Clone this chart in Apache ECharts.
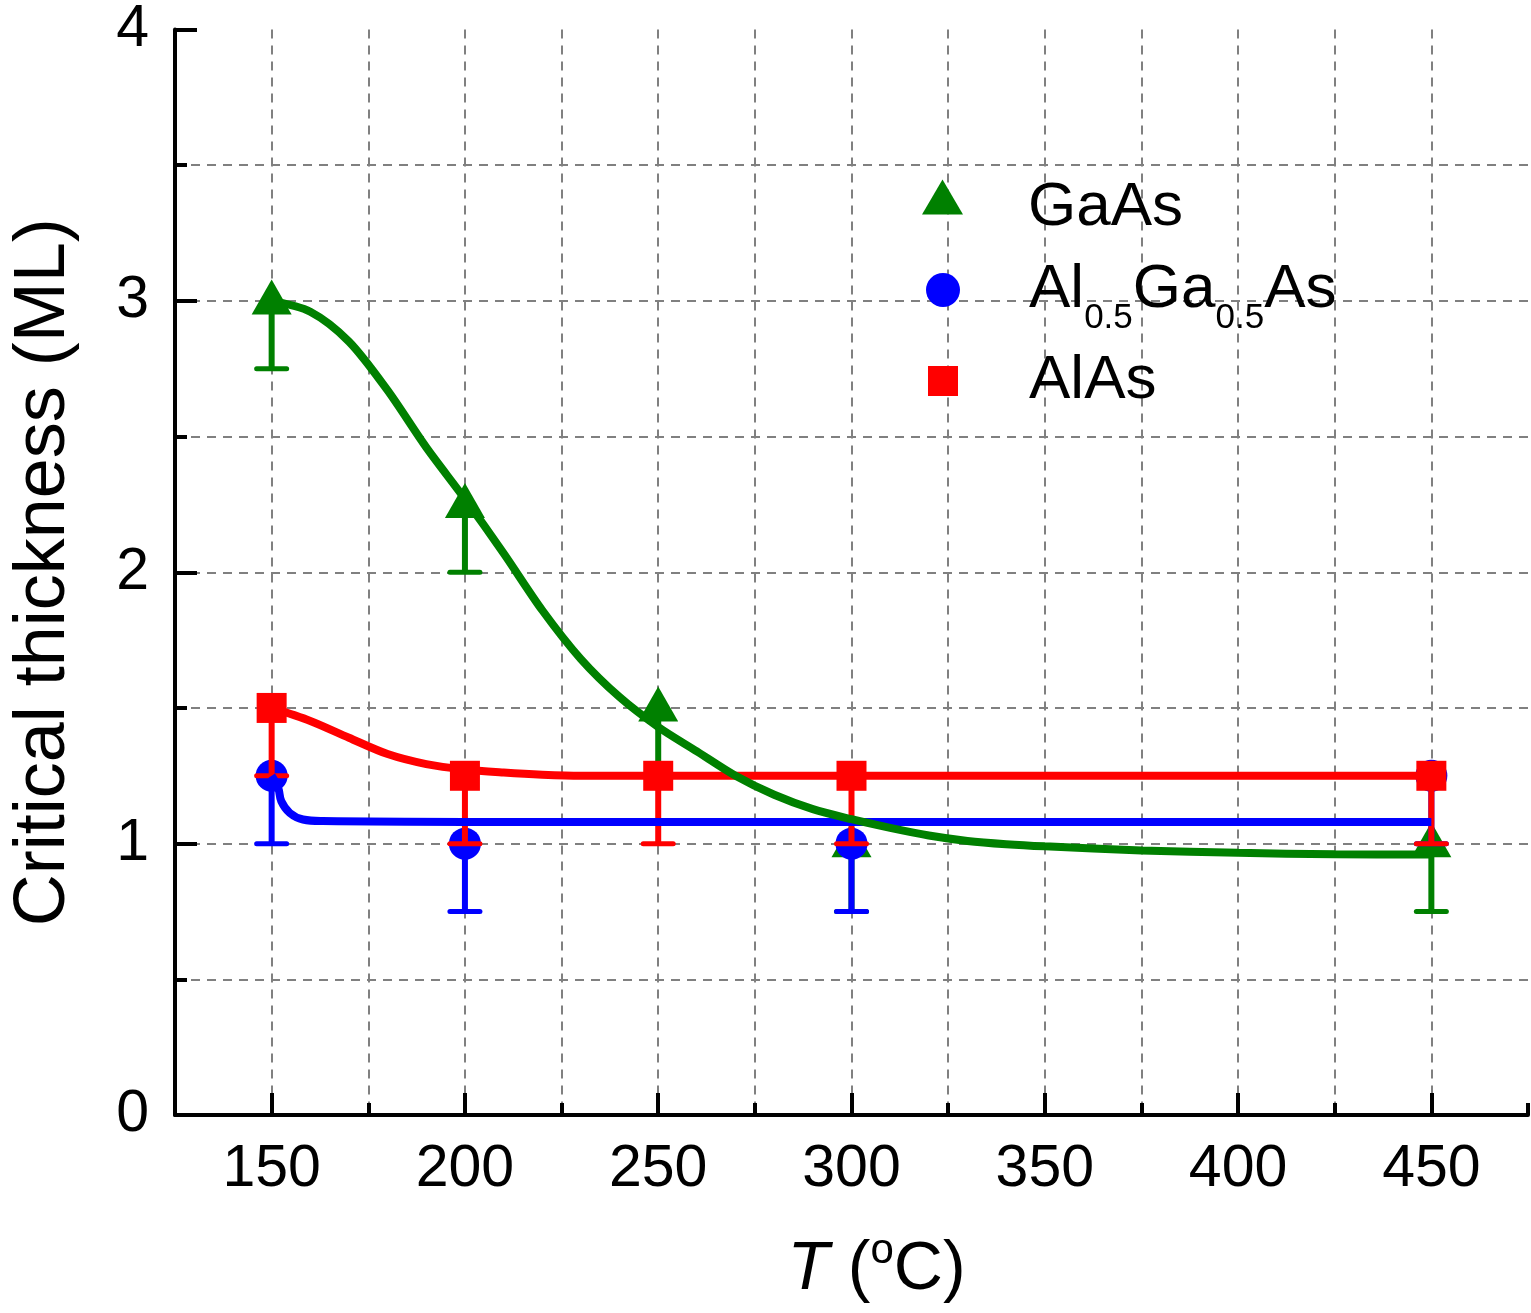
<!DOCTYPE html>
<html>
<head>
<meta charset="utf-8">
<script src="https://cdn.jsdelivr.net/npm/echarts@6/dist/echarts.min.js"></script>
<style>
html,body{margin:0;padding:0;background:#fff;}
#chart{width:1531px;height:1313px;}
</style>
</head>
<body>
<div id="chart"></div>
<script>
// ---- data ----
const gaasX = [150, 200, 250, 300, 450];
const gaasY = [3.0, 2.25, 1.5, 1.0, 1.0];
const gaasLow = [2.75, 2.0, 1.25, 0.75, 0.75];

const algaasX = [150, 200, 300, 450];
const algaasY = [1.25, 1.0, 1.0, 1.25];
const algaasLow = [1.0, 0.75, 0.75, 1.0];

const alasX = [150, 200, 250, 300, 450];
const alasY = [1.5, 1.25, 1.25, 1.25, 1.25];
const alasLow = [1.25, 1.0, 1.0, 1.0, 1.0];

// fitted curves
const gaasFitX = [150, 160, 170, 180, 190, 200, 210, 220, 230, 240, 250, 260, 270, 280, 290, 300, 310, 320, 330, 340, 350, 375, 400, 425, 450];
const gaasFitY = [3.0, 2.96, 2.85, 2.67, 2.46, 2.27, 2.07, 1.86, 1.68, 1.54, 1.43, 1.34, 1.25, 1.18, 1.127, 1.09, 1.058, 1.03, 1.01, 0.998, 0.99, 0.975, 0.966, 0.961, 0.96];

const algaasFitX = [150, 151.7, 152.5, 154.7, 158.1, 163.2, 200, 300, 450];
const algaasFitY = [1.25, 1.205, 1.156, 1.113, 1.089, 1.083, 1.08, 1.08, 1.08];

const alasFitX = [150, 160, 170, 180, 190, 200, 210, 220, 230, 250, 450];
const alasFitY = [1.5, 1.452, 1.39, 1.33, 1.293, 1.273, 1.262, 1.254, 1.25, 1.25, 1.25];

const xMajorTicks = [150, 200, 250, 300, 350, 400, 450];

const FONT = 'Liberation Sans, Arial, sans-serif';
const GREEN = '#008000', BLUE = '#0000ff', RED = '#ff0000';

function zip(a, b) { return a.map((v, i) => [v, b[i]]); }
function zip3(a, b, c) { return a.map((v, i) => [v, b[i], c[i]]); }

function errRender(color) {
  return function (params, api) {
    const x = api.value(0), y = api.value(1), lo = api.value(2);
    const p1 = api.coord([x, y]);
    const p2 = api.coord([x, lo]);
    const hw = 15;
    return {
      type: 'group',
      children: [
        { type: 'line', shape: { x1: p1[0], y1: p1[1], x2: p2[0], y2: p2[1] },
          style: { stroke: color, lineWidth: 6 } },
        { type: 'line', shape: { x1: p2[0] - hw, y1: p2[1], x2: p2[0] + hw, y2: p2[1] },
          style: { stroke: color, lineWidth: 5, lineCap: 'round' } }
      ]
    };
  };
}

const gridDash = { color: '#808080', width: 2, type: [9, 7] };

const chart = echarts.init(document.getElementById('chart'), null, { renderer: 'canvas' });

const option = {
  animation: false,
  backgroundColor: '#fff',
  textStyle: { fontFamily: FONT },
  grid: { left: 175, right: 3, top: 25, bottom: 198, containLabel: false },
  legend: [
    {
      data: [{ name: 'GaAs', icon: 'triangle' }],
      left: 922, top: 177, padding: 0, itemWidth: 41, itemHeight: 35,
      selectedMode: false,
      formatter: function () { return '{g|}{m|GaAs}'; },
      textStyle: { rich: {
        g: { width: 60, fontSize: 10 },
        m: { fontSize: 62, fontFamily: FONT, color: '#000', padding: [22, 0, 0, 0] }
      } }
    },
    {
      data: [{ name: 'Al0.5Ga0.5As', icon: 'circle' }],
      left: 926, top: 259, padding: 0, itemWidth: 34, itemHeight: 34,
      selectedMode: false,
      formatter: function () { return '{g|}{m|Al}{s|0.5}{m|Ga}{s|0.5}{m|As}'; },
      textStyle: { rich: {
        g: { width: 64, fontSize: 10 },
        m: { fontSize: 62, fontFamily: FONT, color: '#000' },
        s: { fontSize: 35, fontFamily: FONT, color: '#000', padding: [56, 0, 0, 0] }
      } }
    },
    {
      data: [{ name: 'AlAs', icon: 'rect' }],
      left: 928, top: 350, padding: 0, itemWidth: 30, itemHeight: 30,
      selectedMode: false,
      formatter: function () { return '{g|}{m|AlAs}'; },
      textStyle: { rich: {
        g: { width: 66, fontSize: 10 },
        m: { fontSize: 62, fontFamily: FONT, color: '#000' }
      } }
    }
  ],
  xAxis: [
    {
      type: 'value', min: 125, max: 475, interval: 25,
      name: '{g|}{i|T}{m| (}{s|o}{m|C)}',
      nameLocation: 'middle', nameGap: 115,
      nameTextStyle: { rich: {
        g: { width: 50, fontSize: 10 },
        i: { fontSize: 68, fontStyle: 'italic', fontFamily: FONT, color: '#000' },
        m: { fontSize: 68, fontFamily: FONT, color: '#000' },
        s: { fontSize: 42, fontFamily: FONT, color: '#000', padding: [0, 0, 38, 0] }
      } },
      axisLine: { show: true, lineStyle: { color: '#000', width: 4 } },
      axisTick: { show: true, inside: true, length: 12, lineStyle: { color: '#000', width: 4 } },
      axisLabel: {
        margin: 25, fontSize: 59, color: '#000', fontFamily: FONT,
        formatter: function (v) { return (v % 50 === 0) ? String(v) : ''; }
      },
      splitLine: { show: true, showMinLine: false, showMaxLine: false, lineStyle: gridDash }
    },
    {
      type: 'value', min: 125, max: 475, position: 'bottom',
      axisLine: { show: false },
      axisTick: { show: true, inside: true, length: 22, customValues: xMajorTicks,
        lineStyle: { color: '#000', width: 4 } },
      axisLabel: { show: false },
      splitLine: { show: false }
    }
  ],
  yAxis: {
    type: 'value', min: 0, max: 4, interval: 1,
    name: 'Critical thickness (ML)',
    nameLocation: 'middle', nameGap: 95,
    nameTextStyle: { fontSize: 72, color: '#000', fontFamily: FONT },
    axisLine: { show: true, lineStyle: { color: '#000', width: 4 } },
    axisTick: { show: true, inside: true, length: 22, lineStyle: { color: '#000', width: 4 } },
    minorTick: { show: true, splitNumber: 2, length: 12, lineStyle: { color: '#000', width: 4 } },
    axisLabel: { margin: 26, fontSize: 59, color: '#000', fontFamily: FONT },
    splitLine: { show: true, showMinLine: false, showMaxLine: false, lineStyle: gridDash },
    minorSplitLine: { show: true, lineStyle: gridDash }
  },
  series: [
    {
      name: 'GaAs', type: 'scatter', z: 2,
      data: zip(gaasX, gaasY), symbol: 'triangle', symbolSize: [40, 35], symbolOffset: [0, -4],
      itemStyle: { color: GREEN, opacity: 1 }
    },
    {
      name: 'GaAs err', type: 'custom', z: 2,
      data: zip3(gaasX, gaasY, gaasLow), renderItem: errRender(GREEN),
      encode: { x: 0, y: [1, 2] }
    },
    {
      name: 'Al0.5Ga0.5As', type: 'scatter', z: 3,
      data: zip(algaasX, algaasY), symbol: 'circle', symbolSize: 32,
      itemStyle: { color: BLUE, opacity: 1 }
    },
    {
      name: 'AlGaAs err', type: 'custom', z: 3,
      data: zip3(algaasX, algaasY, algaasLow), renderItem: errRender(BLUE),
      encode: { x: 0, y: [1, 2] }
    },
    {
      name: 'AlAs', type: 'scatter', z: 4,
      data: zip(alasX, alasY), symbol: 'rect', symbolSize: 30,
      itemStyle: { color: RED, opacity: 1 }
    },
    {
      name: 'AlAs err', type: 'custom', z: 4,
      data: zip3(alasX, alasY, alasLow), renderItem: errRender(RED),
      encode: { x: 0, y: [1, 2] }
    },
    {
      name: 'AlAs fit', type: 'line', z: 4, showSymbol: false, smooth: 0.3,
      data: zip(alasFitX, alasFitY), lineStyle: { color: RED, width: 8 }, itemStyle: { color: RED }
    },
    {
      name: 'AlGaAs fit', type: 'line', z: 5, showSymbol: false, smooth: 0.4,
      data: zip(algaasFitX, algaasFitY), lineStyle: { color: BLUE, width: 8 }, itemStyle: { color: BLUE }
    },
    {
      name: 'GaAs fit', type: 'line', z: 6, showSymbol: false, smooth: 0.3,
      data: zip(gaasFitX, gaasFitY), lineStyle: { color: GREEN, width: 8 }, itemStyle: { color: GREEN }
    }
  ]
};
chart.setOption(option);
</script>
</body>
</html>
